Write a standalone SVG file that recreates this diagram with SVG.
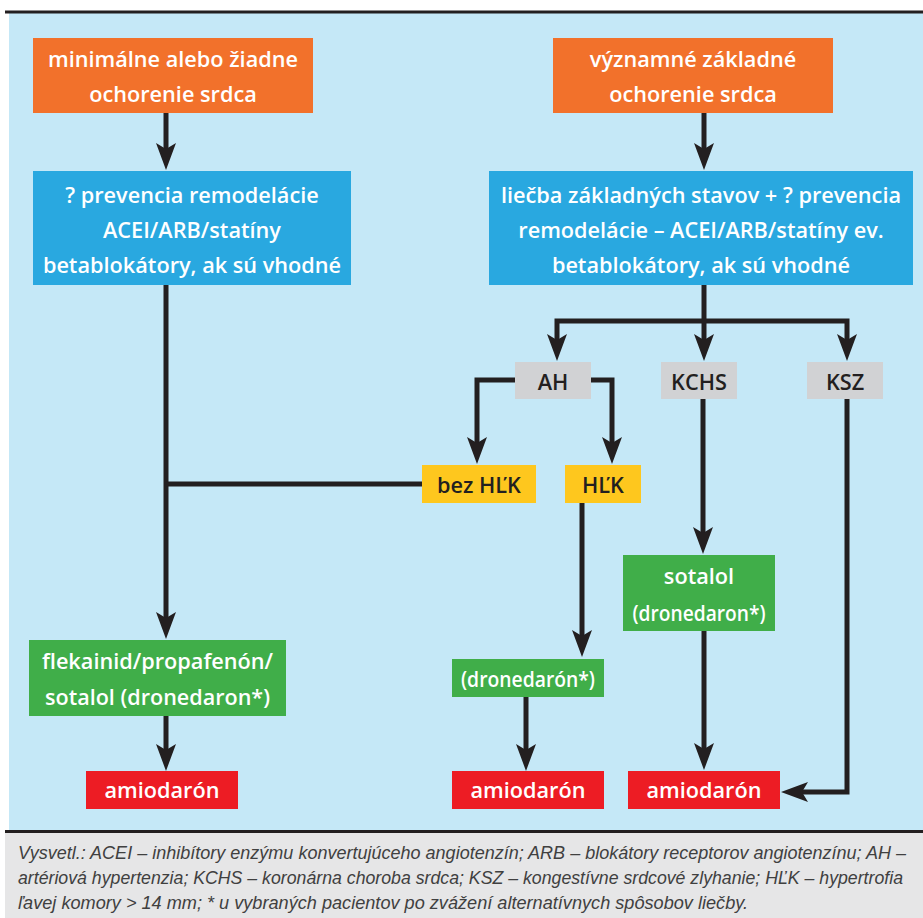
<svg xmlns="http://www.w3.org/2000/svg" width="923" height="918" viewBox="0 0 923 918">
<defs>
<style>
.t{font-family:"Open Sans","Noto Sans","Liberation Sans",sans-serif;font-weight:600;font-size:21.7px;text-anchor:middle;fill:#ffffff}
.d{fill:#231f20}
.c{fill:none;stroke:#231f20;stroke-width:5;stroke-linejoin:miter}
.a{marker-end:url(#ah)}
.f{font-family:"Liberation Sans",Arial,sans-serif;font-style:italic;font-size:17.5px;fill:#404040}
</style>
<marker id="ah" markerUnits="userSpaceOnUse" viewBox="-2 -12 32 24" markerWidth="32" markerHeight="24" refX="7" refY="0" orient="auto">
<path d="M27,0 L0,-10 L6,0 L0,10 Z" fill="#231f20"/>
</marker>
</defs>
<rect x="0" y="0" width="923" height="918" fill="#ffffff"/>
<rect x="9" y="13" width="914" height="817" fill="#c5e8f7"/>
<rect x="5" y="10.5" width="918" height="3" fill="#231f20"/>
<rect x="5" y="833" width="918" height="85" fill="#e6e6e7"/>
<rect x="5" y="830" width="918" height="3" fill="#231f20"/>

<g id="connectors">
<path class="c a" d="M166,113 V150"/>
<path class="c a" d="M704,113 V150"/>
<path class="c a" d="M704,285 V341"/>
<path class="c a" d="M704,321 H557 V341"/>
<path class="c a" d="M704,321 H847 V341"/>
<path class="c a" d="M515,380 H477 V444"/>
<path class="c a" d="M591,380 H612 V444"/>
<path class="c a" d="M166,285 V619"/>
<path class="c" d="M422,484 H166"/>
<path class="c a" d="M166,716 V751"/>
<path class="c a" d="M582,503 V637"/>
<path class="c a" d="M526,697 V751"/>
<path class="c a" d="M703,399 V534"/>
<path class="c a" d="M704,631 V750"/>
<path class="c a" d="M847,399 V792 H801"/>
</g>

<g id="n-minimalne">
<rect x="33" y="38" width="280" height="75" fill="#f2712b"/>
<text class="t" x="173" y="67">minimálne alebo žiadne</text>
<text class="t" x="173" y="102">ochorenie srdca</text>
</g>
<g id="n-vyznamne">
<rect x="553" y="38" width="280" height="75" fill="#f2712b"/>
<text class="t" x="693" y="67">významné základné</text>
<text class="t" x="693" y="102">ochorenie srdca</text>
</g>
<g id="n-prevencia">
<rect x="33" y="171" width="318" height="114" fill="#29a8e0"/>
<text class="t" x="192" y="203">? prevencia remodelácie</text>
<text class="t" x="192" y="238">ACEI/ARB/statíny</text>
<text class="t" x="192" y="273">betablokátory, ak sú vhodné</text>
</g>
<g id="n-liecba">
<rect x="489" y="171" width="424" height="114" fill="#29a8e0"/>
<text class="t" x="701" y="203">liečba základných stavov + ? prevencia</text>
<text class="t" x="701" y="238">remodelácie – ACEI/ARB/statíny ev.</text>
<text class="t" x="701" y="273">betablokátory, ak sú vhodné</text>
</g>
<g id="n-ah">
<rect x="515" y="362" width="76" height="37" fill="#d1d2d4"/>
<text class="t d" x="553" y="390">AH</text>
</g>
<g id="n-kchs">
<rect x="661" y="362" width="76" height="37" fill="#d1d2d4"/>
<text class="t d" x="699" y="390">KCHS</text>
</g>
<g id="n-ksz">
<rect x="807" y="362" width="76" height="37" fill="#d1d2d4"/>
<text class="t d" x="845" y="390">KSZ</text>
</g>
<g id="n-bezhlk">
<rect x="422" y="465" width="114" height="38" fill="#fec71e"/>
<text class="t d" x="479" y="493">bez HĽK</text>
</g>
<g id="n-hlk">
<rect x="565" y="465" width="76" height="38" fill="#fec71e"/>
<text class="t d" x="603" y="493">HĽK</text>
</g>
<g id="n-flekainid">
<rect x="29" y="640" width="257" height="76" fill="#40ae49"/>
<text class="t" x="157.5" y="669">flekainid/propafenón/</text>
<text class="t" x="157.5" y="705" textLength="225" lengthAdjust="spacingAndGlyphs">sotalol (dronedaron*)</text>
</g>
<g id="n-sotalol">
<rect x="623" y="555" width="152" height="76" fill="#40ae49"/>
<text class="t" x="699" y="584">sotalol</text>
<text class="t" x="699" y="621" textLength="133" lengthAdjust="spacingAndGlyphs">(dronedaron*)</text>
</g>
<g id="n-dronedaron">
<rect x="452" y="659" width="152" height="38" fill="#40ae49"/>
<text class="t" x="528" y="687" textLength="134" lengthAdjust="spacingAndGlyphs">(dronedarón*)</text>
</g>
<g id="n-amio1">
<rect x="86" y="771" width="152" height="38" fill="#ed1c24"/>
<text class="t" x="162" y="798">amiodarón</text>
</g>
<g id="n-amio2">
<rect x="452" y="771" width="152" height="38" fill="#ed1c24"/>
<text class="t" x="528" y="798">amiodarón</text>
</g>
<g id="n-amio3">
<rect x="628" y="771" width="152" height="38" fill="#ed1c24"/>
<text class="t" x="704" y="798">amiodarón</text>
</g>

<g id="footer">
<text class="f" x="18" y="859" textLength="888" lengthAdjust="spacingAndGlyphs">Vysvetl.: ACEI – inhibítory enzýmu konvertujúceho angiotenzín; ARB – blokátory receptorov angiotenzínu; AH –</text>
<text class="f" x="18" y="884" textLength="885" lengthAdjust="spacingAndGlyphs">artériová hypertenzia; KCHS – koronárna choroba srdca; KSZ – kongestívne srdcové zlyhanie; HĽK – hypertrofia</text>
<text class="f" x="18" y="909" textLength="730" lengthAdjust="spacingAndGlyphs">ľavej komory &gt; 14 mm; * u vybraných pacientov po zvážení alternatívnych spôsobov liečby.</text>
</g>
</svg>
